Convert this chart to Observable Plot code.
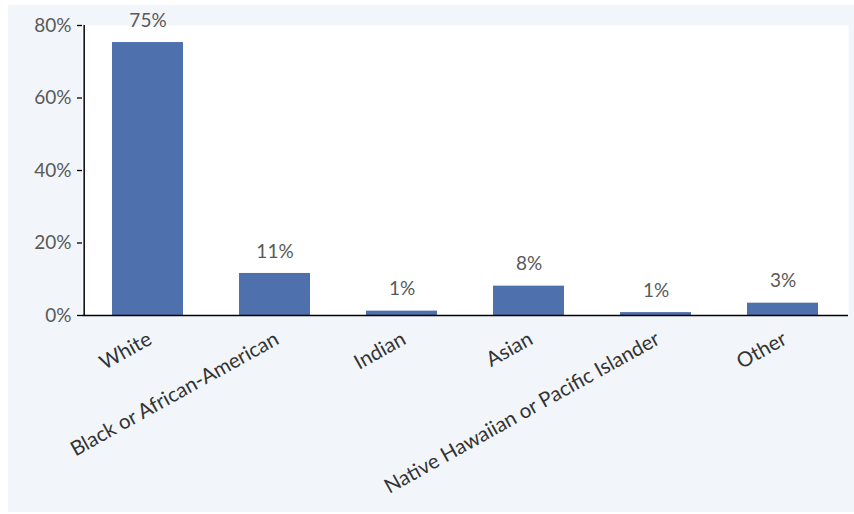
<!DOCTYPE html>
<html>
<head>
<meta charset="utf-8">
<script src="https://cdn.jsdelivr.net/npm/d3@7"></script>
<script src="https://cdn.jsdelivr.net/npm/@observablehq/plot@0.6"></script>
<style>
  html, body { margin: 0; padding: 0; background: #ffffff; }
  #wrap { position: relative; width: 854px; height: 514px; }
  #panel { position: absolute; left: 8px; top: 5px; width: 846px; height: 507px; background: #f2f6fa; }
  #chart { position: absolute; left: 0; top: 0; }
</style>
</head>
<body>
<div id="wrap"><div id="panel"></div><div id="chart"></div></div>
<script>
const categories = ["White", "Black or African-American", "Indian", "Asian", "Native Hawaiian or Pacific Islander", "Other"];
const values = [75.3, 11.6, 1.2, 8.1, 0.8, 3.4];
const labels = ["75%", "11%", "1%", "8%", "1%", "3%"];
const yTicks = [0, 20, 40, 60, 80];

const data = categories.map((c, i) => ({category: c, value: values[i], label: labels[i]}));

const W = 854, ML = 82, MR = 6, PI = 0.44, PO = 0.22;
// offset from the first band's centre back to the left edge of the plot area
const step = (W - ML - MR) / (categories.length - PI + 2 * PO);
const leftOffset = step * PO + step * (1 - PI) / 2;

const font = "Lato, 'Open Sans', sans-serif";
const plot = Plot.plot({
  width: W,
  height: 514,
  marginLeft: ML,
  marginRight: MR,
  marginTop: 25,
  marginBottom: 199,
  style: {background: "transparent", fontFamily: font, fontSize: "19px", color: "#595959"},
  x: {domain: categories, paddingInner: PI, paddingOuter: PO, label: null, axis: null},
  y: {domain: [0, 80], ticks: yTicks, tickFormat: d => d + "%", label: null, axis: null},
  marks: [
    Plot.frame({fill: "white", stroke: null}),
    Plot.barY(data, {x: "category", y: "value", fill: "#4e70ad"}),
    Plot.text(data, {x: "category", y: "value", text: "label", dy: -22, fill: "#595959", fontSize: 19}),
    Plot.axisY({ticks: yTicks, tickFormat: d => d + "%", tickSize: 5, tickPadding: 6, stroke: "#000", strokeWidth: 1.3, fill: "#595959", fontSize: 19, label: null}),
    Plot.ruleX([categories[0]], {y1: 0, y2: 80, dx: -leftOffset, stroke: "#000", strokeWidth: 1.5}),
    Plot.ruleY([0], {stroke: "#000", strokeWidth: 1.5}),
    Plot.axisX({tickRotate: -29, tickSize: 0, tickPadding: 22, fill: "#333", fontSize: 20.5, label: null, dx: 2})
  ]
});
document.getElementById("chart").appendChild(plot);
</script>
</body>
</html>
